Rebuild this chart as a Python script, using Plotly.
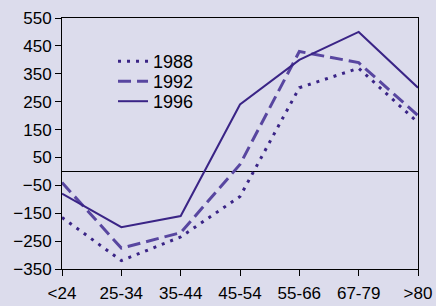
import plotly.graph_objects as go

categories = ["<24", "25-34", "35-44", "45-54", "55-66", "67-79", ">80"]
y1988 = [-165, -320, -235, -90, 300, 370, 175]
y1992 = [-40, -275, -220, 25, 430, 390, 200]
y1996 = [-80, -200, -160, 240, 400, 500, 300]
yticks = [-350, -250, -150, -50, 50, 150, 250, 350, 450, 550]

dark = "#3a2486"
mid = "#5846a0"
bg = "#dcdcec"

fig = go.Figure()
fig.add_trace(go.Scatter(x=categories, y=y1988, name="1988", mode="lines",
                         legend="legend",
                         line=dict(color=dark, width=3, dash="3px,6px")))
fig.add_trace(go.Scatter(x=categories, y=y1992, name="1992", mode="lines",
                         legend="legend2",
                         line=dict(color=mid, width=3, dash="13px,6px")))
fig.add_trace(go.Scatter(x=categories, y=y1996, name="1996", mode="lines",
                         legend="legend3",
                         line=dict(color=dark, width=2)))

leg = dict(x=0.1433, xanchor="left", yanchor="middle",
           bgcolor="rgba(0,0,0,0)", font=dict(size=18))

fig.update_layout(
    width=436, height=306,
    margin=dict(l=62, r=18, t=18, b=37, autoexpand=False),
    paper_bgcolor=bg, plot_bgcolor=bg,
    font=dict(family="Liberation Sans, Arial", size=16, color="#000000"),
    showlegend=True,
    legend=dict(leg, y=0.8267),
    legend2=dict(leg, y=0.747),
    legend3=dict(leg, y=0.6673),
    xaxis=dict(type="category", range=[0, 6], showgrid=False, zeroline=False,
               showline=True, linecolor="#000", linewidth=1, mirror=True,
               ticks="outside", ticklen=6, tickcolor="#000", automargin=False,
               ticklabelstandoff=3, tickfont=dict(size=17)),
    yaxis=dict(range=[-350, 550], tickvals=yticks, showgrid=False,
               zeroline=True, zerolinecolor="#000", zerolinewidth=1,
               showline=True, linecolor="#000", linewidth=1, mirror=True,
               ticks="outside", ticklen=6, tickcolor="#000", automargin=False,
               ticklabelstandoff=0, tickfont=dict(size=17)),
)

fig.write_html(
    "out.html",
    config={"displayModeBar": False},
    post_script="document.body.style.margin='0';document.body.style.overflow='hidden';",
)
